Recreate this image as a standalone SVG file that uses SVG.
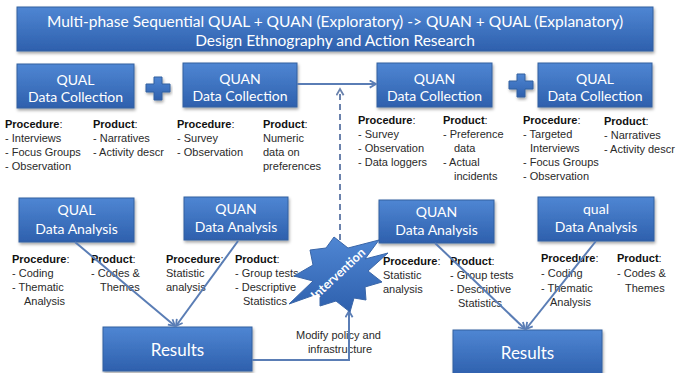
<svg xmlns="http://www.w3.org/2000/svg" width="696" height="373" viewBox="0 0 696 373">
  <defs>
    <linearGradient id="blueFill" x1="0" y1="0" x2="0" y2="1">
      <stop offset="0" stop-color="#4f86d3"/>
      <stop offset="1" stop-color="#2e60ad"/>
    </linearGradient>
    <filter id="shadow" x="-10%" y="-10%" width="120%" height="130%">
      <feDropShadow dx="1" dy="2" stdDeviation="1.5" flood-color="#000" flood-opacity="0.35"/>
    </filter>
    <marker id="openArrow" viewBox="0 0 10 10" refX="8" refY="5" markerWidth="4.5" markerHeight="4.5" orient="auto" markerUnits="strokeWidth">
      <path d="M1,1 L8,5 L1,9" fill="none" stroke="context-stroke" stroke-width="2"/>
    </marker>
    <marker id="openArrowDash" viewBox="0 0 10 10" refX="8" refY="5" markerWidth="4.5" markerHeight="4.5" orient="auto" markerUnits="strokeWidth">
      <path d="M1,1 L8,5 L1,9" fill="none" stroke="#6a82ad" stroke-width="2"/>
    </marker>
  </defs>
  <style>
    .box { fill: url(#blueFill); stroke: #33609f; stroke-width: 1; filter: url(#shadow); }
    .lbl { font-family: Lato, "Liberation Sans", sans-serif; font-size: 14px; fill: #ffffff; text-anchor: middle; }
    .title { font-family: Lato, "Liberation Sans", sans-serif; font-size: 15.5px; fill: #ffffff; text-anchor: middle; }
    .res { font-family: Lato, "Liberation Sans", sans-serif; font-size: 17px; fill: #ffffff; text-anchor: middle; }
    .txt { font-family: "Liberation Sans", Arial, sans-serif; font-size: 11px; fill: #2a2a2a; }
    .b { font-weight: bold; fill: #111; }
    .conn { fill: none; stroke: #5a7db5; stroke-width: 2; }
    .dash { fill: none; stroke: #6a82ad; stroke-width: 2; stroke-dasharray: 6 4; }
    .star { fill: url(#blueFill); stroke: #3a66a8; stroke-width: 1; }
    .startxt { font-family: Lato, "Liberation Sans", sans-serif; font-size: 12.5px; font-weight: bold; fill: #ffffff; text-anchor: middle; }
  </style>

  <!-- Title banner -->
  <g id="title">
    <rect class="box" x="17" y="7" width="636" height="44"/>
    <text class="title" x="335" y="27">Multi-phase Sequential QUAL + QUAN (Exploratory) -&gt; QUAN + QUAL (Explanatory)</text>
    <text class="title" x="335" y="46">Design Ethnography and Action Research</text>
  </g>

  <!-- Phase 1: data collection -->
  <g id="qual-collection-1">
    <rect class="box" x="17" y="64" width="117" height="44"/>
    <text class="lbl" x="75.5" y="85">QUAL</text>
    <text class="lbl" x="75.5" y="102">Data Collection</text>
    <text class="txt">
      <tspan x="5" y="128"><tspan class="b">Procedure</tspan>:</tspan>
      <tspan x="5" y="142">- Interviews</tspan>
      <tspan x="5" y="156">- Focus Groups</tspan>
      <tspan x="5" y="170">- Observation</tspan>
    </text>
    <text class="txt">
      <tspan x="93" y="128"><tspan class="b">Product</tspan>:</tspan>
      <tspan x="93" y="142">- Narratives</tspan>
      <tspan x="93" y="156">- Activity descr</tspan>
    </text>
  </g>

  <g id="plus-1">
    <path class="box" d="M154,77 h8 v7 h8 v8 h-8 v8 h-8 v-8 h-8 v-8 h8 z"/>
  </g>

  <g id="quan-collection-1">
    <rect class="box" x="183" y="63" width="114" height="44"/>
    <text class="lbl" x="240" y="84">QUAN</text>
    <text class="lbl" x="240" y="101">Data Collection</text>
    <text class="txt">
      <tspan x="177" y="128"><tspan class="b">Procedure</tspan>:</tspan>
      <tspan x="177" y="142">- Survey</tspan>
      <tspan x="177" y="156">- Observation</tspan>
    </text>
    <text class="txt">
      <tspan x="263" y="128"><tspan class="b">Product</tspan>:</tspan>
      <tspan x="263" y="142">Numeric</tspan>
      <tspan x="263" y="156">data on</tspan>
      <tspan x="263" y="170">preferences</tspan>
    </text>
  </g>

  <!-- Phase 2: data collection -->
  <g id="quan-collection-2">
    <rect class="box" x="377" y="63" width="115" height="44"/>
    <text class="lbl" x="434.5" y="84">QUAN</text>
    <text class="lbl" x="434.5" y="101">Data Collection</text>
    <text class="txt">
      <tspan x="358" y="124"><tspan class="b">Procedure</tspan>:</tspan>
      <tspan x="358" y="138">- Survey</tspan>
      <tspan x="358" y="152">- Observation</tspan>
      <tspan x="358" y="166">- Data loggers</tspan>
    </text>
    <text class="txt">
      <tspan x="443" y="124"><tspan class="b">Product</tspan>:</tspan>
      <tspan x="443" y="138">- Preference</tspan>
      <tspan x="454" y="152">data</tspan>
      <tspan x="443" y="166">- Actual</tspan>
      <tspan x="454" y="180">incidents</tspan>
    </text>
  </g>

  <g id="plus-2">
    <path class="box" d="M517,74 h8 v7 h8 v8 h-8 v8 h-8 v-8 h-8 v-8 h8 z"/>
  </g>

  <g id="qual-collection-2">
    <rect class="box" x="538" y="63" width="114" height="44"/>
    <text class="lbl" x="595" y="84">QUAL</text>
    <text class="lbl" x="595" y="101">Data Collection</text>
    <text class="txt">
      <tspan x="523" y="124"><tspan class="b">Procedure</tspan>:</tspan>
      <tspan x="523" y="138">- Targeted</tspan>
      <tspan x="530" y="152">Interviews</tspan>
      <tspan x="523" y="166">- Focus Groups</tspan>
      <tspan x="523" y="180">- Observation</tspan>
    </text>
    <text class="txt">
      <tspan x="604" y="125"><tspan class="b">Product</tspan>:</tspan>
      <tspan x="604" y="139">- Narratives</tspan>
      <tspan x="604" y="153">- Activity descr</tspan>
    </text>
  </g>

  <!-- Phase 1: analysis -->
  <g id="qual-analysis-1">
    <rect class="box" x="19" y="198" width="115" height="44"/>
    <text class="lbl" x="76.5" y="215">QUAL</text>
    <text class="lbl" x="76.5" y="234">Data Analysis</text>
    <text class="txt">
      <tspan x="12" y="263"><tspan class="b">Procedure</tspan>:</tspan>
      <tspan x="12" y="277">- Coding</tspan>
      <tspan x="12" y="291">- Thematic</tspan>
      <tspan x="24" y="305">Analysis</tspan>
    </text>
    <text class="txt">
      <tspan x="91" y="263"><tspan class="b">Product</tspan>:</tspan>
      <tspan x="91" y="277">- Codes &amp;</tspan>
      <tspan x="100" y="291">Themes</tspan>
    </text>
  </g>

  <g id="quan-analysis-1">
    <rect class="box" x="184" y="197" width="104" height="43"/>
    <text class="lbl" x="236" y="214">QUAN</text>
    <text class="lbl" x="236" y="232">Data Analysis</text>
    <text class="txt">
      <tspan x="166" y="263"><tspan class="b">Procedure</tspan>:</tspan>
      <tspan x="166" y="277">Statistic</tspan>
      <tspan x="166" y="291">analysis</tspan>
    </text>
    <text class="txt">
      <tspan x="235" y="263"><tspan class="b">Product</tspan>:</tspan>
      <tspan x="235" y="277">- Group tests</tspan>
      <tspan x="235" y="291">- Descriptive</tspan>
      <tspan x="243" y="305">Statistics</tspan>
    </text>
  </g>

  <!-- Phase 2: analysis -->
  <g id="quan-analysis-2">
    <rect class="box" x="379" y="200" width="115" height="43"/>
    <text class="lbl" x="436.5" y="217">QUAN</text>
    <text class="lbl" x="436.5" y="235">Data Analysis</text>
    <text class="txt">
      <tspan x="383" y="265"><tspan class="b">Procedure</tspan>:</tspan>
      <tspan x="383" y="279">Statistic</tspan>
      <tspan x="383" y="293">analysis</tspan>
    </text>
    <text class="txt">
      <tspan x="450" y="265"><tspan class="b">Product</tspan>:</tspan>
      <tspan x="450" y="279">- Group tests</tspan>
      <tspan x="450" y="293">- Descriptive</tspan>
      <tspan x="458" y="307">Statistics</tspan>
    </text>
  </g>

  <g id="qual-analysis-2">
    <rect class="box" x="538" y="197" width="116" height="44"/>
    <text class="lbl" x="596" y="214">qual</text>
    <text class="lbl" x="596" y="232">Data Analysis</text>
    <text class="txt">
      <tspan x="541" y="262"><tspan class="b">Procedure</tspan>:</tspan>
      <tspan x="541" y="277">- Coding</tspan>
      <tspan x="541" y="292">- Thematic</tspan>
      <tspan x="550" y="306">Analysis</tspan>
    </text>
    <text class="txt">
      <tspan x="617" y="262"><tspan class="b">Product</tspan>:</tspan>
      <tspan x="617" y="277">- Codes &amp;</tspan>
      <tspan x="625" y="292">Themes</tspan>
    </text>
  </g>

  <!-- Results -->
  <g id="results-1">
    <rect class="box" x="103" y="327" width="149" height="44"/>
    <text class="res" x="177.5" y="356">Results</text>
  </g>

  <g id="results-2">
    <rect class="box" x="453" y="330" width="149" height="46"/>
    <text class="res" x="527.5" y="359">Results</text>
  </g>

  <g id="modify-note">
    <text class="txt" text-anchor="middle">
      <tspan x="340" y="339">Modify policy and</tspan>
      <tspan x="340" y="353">infrastructure</tspan>
    </text>
  </g>

  <!-- Connectors -->
  <g id="connectors">
    <path class="conn" d="M297,84 H376" marker-end="url(#openArrow)"/>
    <path class="dash" d="M340,240 V89" marker-end="url(#openArrowDash)"/>
    <path class="conn" d="M75,242 L175,326" marker-end="url(#openArrow)"/>
    <path class="conn" d="M238,241 L176,326" marker-end="url(#openArrow)"/>
    <path class="conn" d="M435,243 L525,329" marker-end="url(#openArrow)"/>
    <path class="conn" d="M596,241 L526,329" marker-end="url(#openArrow)"/>
    <path class="conn" d="M252,360 H349 V311" marker-end="url(#openArrow)"/>
  </g>

  <!-- Intervention burst -->
  <g id="intervention">
    <polygon class="star" points="334,237 348,248 379,240 365,259 388,253 368,271 382,282 365,287 366,300 354,298 350,312 336,301 320,306 320,293 289,304 313,281 294,276 313,265 310,250 326,248"/>
    <text class="startxt" transform="translate(341,277) rotate(-43)">Intervention</text>
  </g>
</svg>
